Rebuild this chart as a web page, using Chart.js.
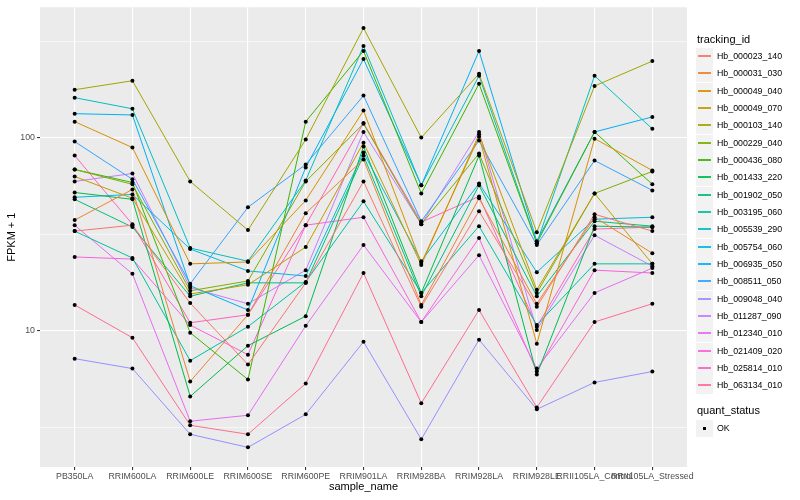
<!DOCTYPE html>
<html lang="en">
<head>
<meta charset="UTF-8">
<title>FPKM by sample</title>
<script src="https://cdn.jsdelivr.net/npm/chart.js@4.4.1/dist/chart.umd.min.js"></script>
<style>
  body { margin: 0; background: #fff; }
  #wrap { position: relative; width: 800px; height: 500px; font-family: "Liberation Sans", Arial, sans-serif; }
  #chart { position: absolute; left: 0; top: 0; }
  .ttl { position: absolute; left: 697px; font-size: 11px; color: #000; line-height: 13px; }
  .row { position: absolute; left: 696px; height: 17px; width: 100px; }
  .key { position: absolute; left: 0; top: 0; width: 17px; height: 17px; background: #f2f2f2; }
  .key i { position: absolute; left: 2px; width: 13px; top: 7px; height: 2px; opacity: 0.9; }
  .key b { position: absolute; left: 7px; top: 7px; width: 3px; height: 3px; background: #000; }
  .lab { position: absolute; left: 21px; top: 3px; font-size: 8.8px; line-height: 11px; color: #000; white-space: nowrap; }
</style>
</head>
<body>
<div id="wrap">
  <canvas id="chart" width="800" height="500"></canvas>
</div>
<script>
// sample names along x
const samples = ['PB350LA', 'RRIM600LA', 'RRIM600LE', 'RRIM600SE', 'RRIM600PE', 'RRIM901LA',
  'RRIM928BA', 'RRIM928LA', 'RRIM928LE', 'RRII105LA_Control', 'RRII105LA_Stressed'];

const trackingIds = ['Hb_000023_140', 'Hb_000031_030', 'Hb_000049_040', 'Hb_000049_070', 'Hb_000103_140',
  'Hb_000229_040', 'Hb_000436_080', 'Hb_001433_220', 'Hb_001902_050', 'Hb_003195_060',
  'Hb_005539_290', 'Hb_005754_060', 'Hb_006935_050', 'Hb_008511_050', 'Hb_009048_040',
  'Hb_011287_090', 'Hb_012340_010', 'Hb_021409_020', 'Hb_025814_010', 'Hb_063134_010'];

// ggplot default hue colours
const lineColors = ['#F8766D', '#EA8331', '#D89000', '#C09B00', '#A3A500', '#7CAE00', '#39B600', '#00BB4E',
  '#00BF7D', '#00C1A3', '#00BFC4', '#00BAE0', '#00B0F6', '#35A2FF', '#9590FF', '#C77CFF', '#E76BF3',
  '#FA62DB', '#FF62BC', '#FF6C91'];

// FPKM + 1, one array per gene, in sample order
const hb000023_140 = [32.8, 35.2, 13.9, 6.68, 17.7, 59.3, 13.3, 41.6, 13.3, 40.1, 32.8];
const hb000031_030 = [37.4, 53.9, 5.46, 12.1, 40.6, 77.1, 13.6, 48.5, 13.8, 38.7, 25.2];
const hb000049_040 = [121, 88.8, 22.2, 22.7, 47.3, 138, 22.4, 101, 8.57, 98.8, 67.6];
const hb000049_070 = [62.9, 48.5, 15.5, 17.3, 27.1, 94.2, 21.9, 104, 16.3, 51.4, 22.2];
const hb000103_140 = [177, 197, 59.3, 33.2, 97.7, 369, 100, 214, 32.4, 185, 249];
const hb000229_040 = [68.4, 57.3, 16.1, 18.1, 59.3, 118, 35.6, 82.7, 15.7, 51.4, 66.8];
const hb000436_080 = [68.4, 58.6, 9.77, 5.59, 121, 281, 51.4, 190, 28.4, 107, 57.3];
const hb001433_220 = [52.0, 47.9, 4.57, 8.37, 11.9, 89.9, 15.7, 80.7, 5.93, 34.8, 34.4];
const hb001902_050 = [47.9, 34.4, 15.1, 17.7, 17.7, 80.7, 15.1, 56.6, 15.1, 36.9, 34.8];
const hb003195_060 = [32.8, 23.8, 7.00, 10.5, 17.9, 46.8, 15.7, 34.8, 10.7, 22.2, 22.2];
const hb005539_290 = [161, 141, 26.8, 22.9, 60.0, 298, 56.6, 209, 28.4, 209, 111];
const hb005754_060 = [49.1, 50.8, 26.5, 20.4, 19.2, 83.7, 22.9, 57.9, 20.1, 37.8, 38.7];
const hb006935_050 = [133, 131, 17.1, 12.8, 70.0, 255, 56.6, 281, 29.1, 107, 128];
const hb008511_050 = [95.4, 60.8, 17.5, 43.6, 72.6, 165, 36.9, 96.5, 27.8, 76.1, 53.3];
const hb009048_040 = [7.17, 6.37, 2.91, 2.49, 3.69, 8.77, 2.74, 8.99, 3.92, 5.40, 6.15];
const hb011287_090 = [59.3, 65.2, 16.7, 13.8, 20.6, 107, 35.6, 107, 10.1, 31.2, 21.6];
const hb012340_010 = [35.2, 19.7, 3.40, 3.65, 10.6, 27.8, 11.1, 24.6, 6.37, 15.7, 21.1];
const hb021409_020 = [24.1, 23.5, 10.7, 7.52, 35.2, 38.7, 11.1, 30.2, 6.15, 20.6, 19.9];
const hb025814_010 = [80.7, 35.6, 11.0, 12.1, 35.2, 119, 36.5, 49.6, 10.5, 33.6, 34.4];
const hb063134_010 = [13.6, 9.20, 3.24, 2.91, 5.33, 19.9, 4.21, 12.8, 4.01, 11.1, 13.8];

const series = [hb000023_140, hb000031_030, hb000049_040, hb000049_070, hb000103_140,
  hb000229_040, hb000436_080, hb001433_220, hb001902_050, hb003195_060,
  hb005539_290, hb005754_060, hb006935_050, hb008511_050, hb009048_040,
  hb011287_090, hb012340_010, hb021409_020, hb025814_010, hb063134_010];

// log axis breaks (minor ones have no label)
const yTickValues = [3.162, 10, 31.62, 100, 316.2];
const yTickLabels = ['', '10', '', '100', ''];

const FONT = '"Liberation Sans", Arial, sans-serif';

// lines first, then black points on top of all of them
const datasets = [];
series.forEach((vals, i) => {
  datasets.push({
    label: trackingIds[i],
    data: vals.map((v, j) => ({ x: j, y: v })),
    borderColor: lineColors[i],
    borderWidth: 1,
    pointRadius: 0,
    fill: false,
    order: 2
  });
});
series.forEach((vals, i) => {
  datasets.push({
    label: trackingIds[i] + ' OK',
    data: vals.map((v, j) => ({ x: j, y: v })),
    showLine: false,
    pointRadius: 2,
    pointStyle: 'circle',
    pointBackgroundColor: '#000',
    pointBorderWidth: 0,
    order: 1
  });
});

const panelBg = {
  id: 'panelBg',
  beforeDraw(chart) {
    const { ctx, chartArea: a } = chart;
    ctx.save();
    ctx.fillStyle = '#EBEBEB';
    ctx.fillRect(a.left, a.top, a.right - a.left, a.bottom - a.top);
    ctx.restore();
  }
};

new Chart(document.getElementById('chart'), {
  type: 'line',
  data: { datasets },
  plugins: [panelBg],
  options: {
    responsive: false,
    animation: false,
    devicePixelRatio: 1,
    layout: { padding: { top: 5, right: 113, bottom: 0, left: 0 } },
    plugins: { legend: { display: false }, tooltip: { enabled: false } },
    scales: {
      x: {
        type: 'linear',
        min: -0.6,
        max: 10.6,
        afterBuildTicks: s => { s.ticks = samples.map((_, i) => ({ value: i })); },
        afterFit: s => { s.height = 33; },
        border: { display: false },
        grid: { color: '#FFFFFF', lineWidth: 1.1, tickLength: 3, tickColor: '#333333' },
        ticks: {
          callback: v => samples[v],
          color: '#4D4D4D',
          font: { size: 8.8, family: FONT },
          padding: 1,
          maxRotation: 0,
          minRotation: 0,
          autoSkip: false
        },
        title: { display: true, text: 'sample_name', color: '#000', font: { size: 11, family: FONT }, padding: { top: 0, bottom: 6 } }
      },
      y: {
        type: 'logarithmic',
        min: 1.97,
        max: 473,
        afterBuildTicks: s => { s.ticks = yTickValues.map(v => ({ value: v })); },
        afterFit: s => { s.width = 40; },
        border: { display: false },
        grid: {
          color: '#FFFFFF',
          lineWidth: c => (yTickLabels[c.index] ? 1.1 : 0.55),
          tickLength: 3,
          tickColor: c => (yTickLabels[c.index] ? '#333333' : 'rgba(0,0,0,0)')
        },
        ticks: {
          callback: (v, i) => yTickLabels[i],
          color: '#4D4D4D',
          font: { size: 8.8, family: FONT },
          padding: 2,
          autoSkip: false
        },
        title: { display: true, text: 'FPKM + 1', color: '#000', font: { size: 11, family: FONT }, padding: { top: 5, bottom: 0 } }
      }
    }
  }
});

// legends on the right
const wrap = document.getElementById('wrap');
function addTitle(text, top) {
  const d = document.createElement('div');
  d.className = 'ttl';
  d.style.top = top + 'px';
  d.textContent = text;
  wrap.appendChild(d);
}
function addRow(top, label, color) {
  const r = document.createElement('div');
  r.className = 'row';
  r.style.top = Math.round(top) + 'px';
  const k = document.createElement('div');
  k.className = 'key';
  if (color) {
    const line = document.createElement('i');
    line.style.backgroundColor = color;
    k.appendChild(line);
  } else {
    k.appendChild(document.createElement('b'));
  }
  const l = document.createElement('div');
  l.className = 'lab';
  l.textContent = label;
  r.appendChild(k);
  r.appendChild(l);
  wrap.appendChild(r);
}
addTitle('tracking_id', 33);
trackingIds.forEach((id, i) => addRow(48 + i * 17.33, id, lineColors[i]));
addTitle('quant_status', 404);
addRow(420, 'OK', null);
</script>
</body>
</html>
